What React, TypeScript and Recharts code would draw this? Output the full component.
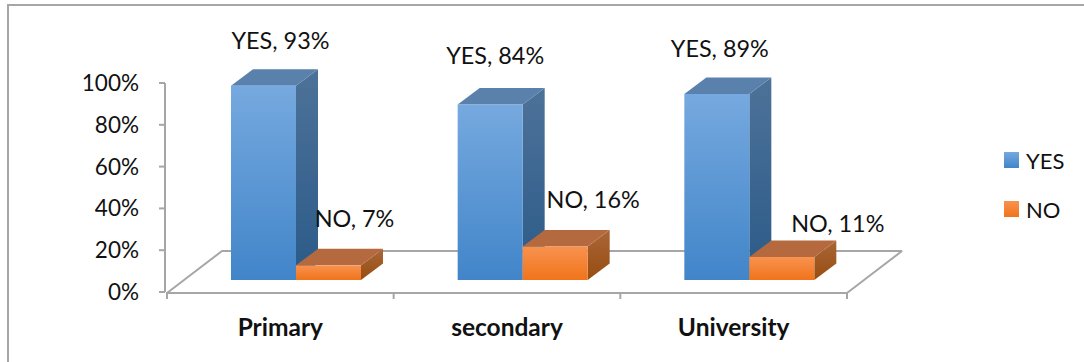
import React from "react";
import { BarChart, Bar, XAxis, YAxis, Legend, LabelList, usePlotArea } from "recharts";

// Share of respondents by education level, in percent.
const categories = ["Primary", "secondary", "University"];
const yesValues = [93, 84, 89];
const noValues = [7, 16, 11];
const percentTicks = [0, 20, 40, 60, 80, 100];

const rows = categories.map((level, i) => ({ level, YES: yesValues[i], NO: noValues[i] }));

// Hand-placed data labels: horizontal and vertical shift from the bar's front top-centre.
const yesLabelShift = [[17, -46], [5, -49], [3, -46]];
const noLabelShift = [[26, -47], [38, -48], [56, -34]];

const FONT = "Lato, 'Open Sans', sans-serif";
const AXIS_GREY = "#a6a6a6";
const FLOOR_DX = 55;
const FLOOR_DY = 41;
const BAR_DX = 22;
const BAR_DY = 16.5;
// Bars stand partway back on the floor.
const STAND_DX = 16;
const STAND_DY = 12;

const faces = {
  YES: { front: "url(#yesFront)", side: "url(#yesSide)", top: "#5a80ac" },
  NO: { front: "url(#noFront)", side: "url(#noSide)", top: "#b5693f" },
};

function Floor() {
  const plot = usePlotArea();
  if (!plot) return null;
  const left = plot.x + 2;
  const right = plot.x + plot.width;
  const bottom = plot.y + plot.height + 1;
  const points = [
    [left, bottom],
    [right, bottom],
    [right + FLOOR_DX, bottom - FLOOR_DY - 1],
    [left + FLOOR_DX, bottom - FLOOR_DY - 1],
  ];
  return (
    <polygon
      points={points.map((p) => p.join(",")).join(" ")}
      fill="none"
      stroke={AXIS_GREY}
      strokeWidth={2}
      strokeLinejoin="bevel"
    />
  );
}

function Box3D(props: any) {
  const { x, y, width, height, dataKey } = props;
  const face = faces[dataKey as "YES" | "NO"];
  const l = x + STAND_DX;
  const r = l + width;
  const t = y - STAND_DY;
  const b = t + height;
  return (
    <g>
      <polygon
        points={`${r},${t} ${r + BAR_DX},${t - BAR_DY} ${r + BAR_DX},${b - BAR_DY} ${r},${b}`}
        fill={face.side}
      />
      <polygon
        points={`${l},${t} ${l + BAR_DX},${t - BAR_DY} ${r + BAR_DX},${t - BAR_DY} ${r},${t}`}
        fill={face.top}
      />
      <rect x={l} y={t} width={width} height={height} fill={face.front} />
    </g>
  );
}

function dataLabel(name: string, shifts: number[][]) {
  return (props: any) => {
    const { x, y, width, value, index } = props;
    return (
      <text
        x={x + STAND_DX + width / 2 + shifts[index][0]}
        y={y - STAND_DY + shifts[index][1]}
        textAnchor="middle"
        dominantBaseline="central"
        fontFamily={FONT}
        fontSize={23.4}
        fill="#111"
      >
        {`${name}, ${value}%`}
      </text>
    );
  };
}

function CategoryTick(props: any) {
  const { x, y, payload, index } = props;
  const band = 680 / categories.length;
  const last = index === categories.length - 1;
  return (
    <g>
      <line x1={x - band / 2} x2={x - band / 2} y1={y - 8} y2={y - 1} stroke={AXIS_GREY} strokeWidth={2} />
      {last && <line x1={x + band / 2} x2={x + band / 2} y1={y - 8} y2={y - 1} stroke={AXIS_GREY} strokeWidth={2} />}
      <text x={x} y={y + 26} textAnchor="middle" dominantBaseline="central" fontFamily={FONT} fontWeight={700} fontSize={24.5} fill="#111">
        {payload.value}
      </text>
    </g>
  );
}

function LegendBox({ payload }: any) {
  const swatches: Record<string, string> = { YES: "url(#yesFront)", NO: "url(#noFront)" };
  const ordered = ["YES", "NO"].filter((name) => (payload || []).some((e: any) => e.value === name));
  return (
    <svg width={76} height={90} style={{ display: "block" }}>
      {ordered.map((name, i) => (
        <g key={name} transform={`translate(0, ${i * 49})`}>
          <rect x={0} y={6} width={15} height={16} fill={swatches[name]} />
          <text x={22} y={14} dominantBaseline="central" fontFamily={FONT} fontSize={22} fill="#111">
            {name}
          </text>
        </g>
      ))}
    </svg>
  );
}

export default function App() {
  return (
    <div style={{ position: "absolute", left: 0, top: 0, width: 1084, height: 362, background: "#fff", overflow: "hidden" }}>
      {/* Frame shows only along the top and left edges. */}
      <div style={{ position: "absolute", left: 7, top: 4, right: 0, height: 2, background: AXIS_GREY }} />
      <div style={{ position: "absolute", left: 7, top: 4, bottom: 0, width: 2, background: AXIS_GREY }} />
      <BarChart
        width={1084}
        height={362}
        data={rows}
        barSize={65}
        barGap={0}
        margin={{ top: 83, right: 161, bottom: 0, left: 0 }}
      >
        <defs>
          <linearGradient id="yesFront" x1="0" y1="0" x2="0" y2="1">
            <stop offset="0%" stopColor="#76a9df" />
            <stop offset="100%" stopColor="#4185c9" />
          </linearGradient>
          <linearGradient id="yesSide" x1="0" y1="0" x2="0" y2="1">
            <stop offset="0%" stopColor="#4d7299" />
            <stop offset="100%" stopColor="#2b5a88" />
          </linearGradient>
          <linearGradient id="noFront" x1="0" y1="0" x2="0" y2="1">
            <stop offset="0%" stopColor="#f8924f" />
            <stop offset="100%" stopColor="#f0741b" />
          </linearGradient>
          <linearGradient id="noSide" x1="0" y1="0" x2="0" y2="1">
            <stop offset="0%" stopColor="#a96638" />
            <stop offset="100%" stopColor="#984d10" />
          </linearGradient>
        </defs>
        <Floor />
        <XAxis
          dataKey="level"
          height={70}
          axisLine={false}
          tickLine={false}
          padding={{ left: 2, right: 0 }}
          interval={0}
          tick={CategoryTick}
        />
        <YAxis
          width={165}
          domain={[0, 100]}
          ticks={percentTicks}
          tickFormatter={(v: number) => `${v}%`}
          tickSize={6}
          tickMargin={20}
          axisLine={{ stroke: AXIS_GREY, strokeWidth: 2 }}
          tickLine={{ stroke: AXIS_GREY, strokeWidth: 2 }}
          tick={{ fontFamily: FONT, fontSize: 22.5, fill: "#111" }}
        />
        <Legend
          layout="vertical"
          align="right"
          verticalAlign="middle"
          content={LegendBox}
          wrapperStyle={{ left: 1004, top: 146, width: 76, height: 90, right: "auto" }}
        />
        <Bar dataKey="YES" shape={Box3D} isAnimationActive={false}>
          <LabelList dataKey="YES" content={dataLabel("YES", yesLabelShift)} />
        </Bar>
        <Bar dataKey="NO" shape={Box3D} isAnimationActive={false}>
          <LabelList dataKey="NO" content={dataLabel("NO", noLabelShift)} />
        </Bar>
      </BarChart>
    </div>
  );
}
